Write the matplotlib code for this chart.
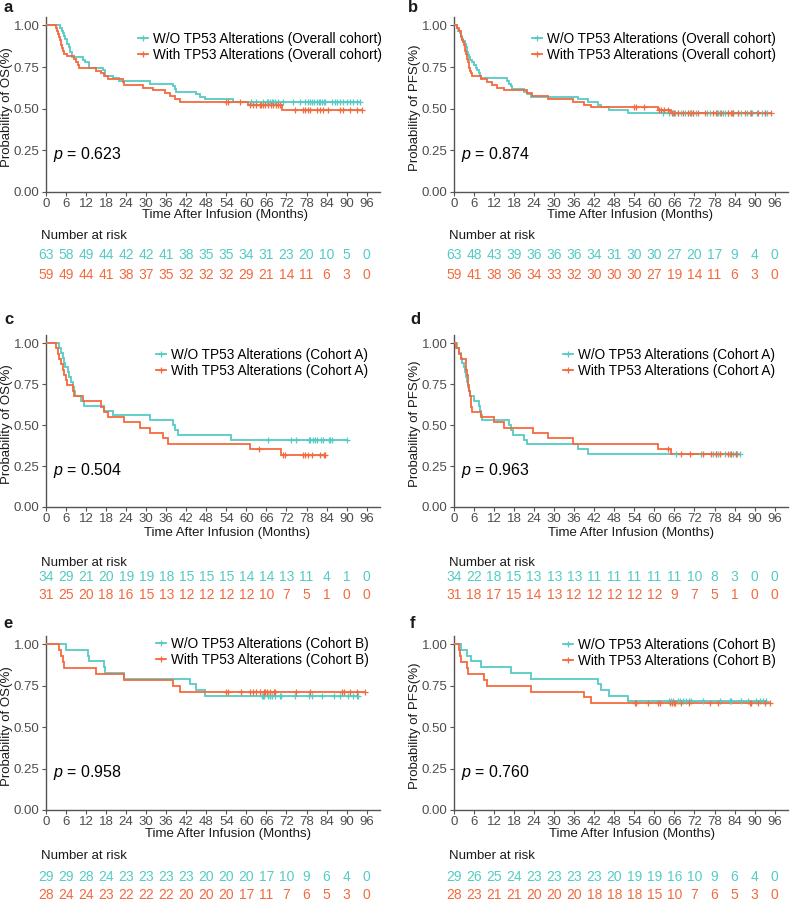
import numpy as np
import matplotlib
matplotlib.use("Agg")
import matplotlib.pyplot as plt
from matplotlib.lines import Line2D
from matplotlib.transforms import blended_transform_factory

plt.rcParams['font.family'] = ['Liberation Sans', 'DejaVu Sans']
plt.rcParams['mathtext.fontset'] = 'custom'
plt.rcParams['mathtext.it'] = 'Liberation Sans:italic'
plt.rcParams['mathtext.rm'] = 'Liberation Sans'

TEAL = '#55CBC4'
ORANGE = '#F46A3E'

# ---------------- data ----------------
x_ticks = [0, 6, 12, 18, 24, 30, 36, 42, 48, 54, 60, 66, 72, 78, 84, 90, 96]
y_ticks = [0.0, 0.25, 0.50, 0.75, 1.00]
y_ticklabels = ['0.00', '0.25', '0.50', '0.75', '1.00']
risk_times = [0, 6, 12, 18, 24, 30, 36, 42, 48, 54, 60, 66, 72, 78, 84, 90, 96]

# panel a : OS overall
a_wo_t = [4.3, 4.7, 5.0, 5.4, 5.8, 6.3, 6.8, 7.3, 7.8, 11.0, 11.8, 12.8, 17.0, 17.8, 20.0, 22.0,
          31.0, 38.0, 38.5, 39.0, 45.0, 46.0, 47.5, 56.0]
a_wo_s = [0.984, 0.968, 0.952, 0.937, 0.921, 0.889, 0.873, 0.841, 0.810, 0.794, 0.778, 0.746,
          0.730, 0.698, 0.683, 0.667, 0.651, 0.635, 0.619, 0.603, 0.587, 0.571, 0.556, 0.540]
a_wo_cens = [61.5, 63.0, 65.1, 66.1, 66.6, 67.1, 67.6, 68.1, 68.6, 69.6, 70.9, 74.1, 76.0, 77.5,
             78.5, 79.1, 79.6, 80.1, 81.1, 81.6, 82.1, 82.6, 83.1, 83.6, 85.5, 86.5, 87.0, 88.0,
             89.0, 90.0, 91.0, 92.0, 93.0, 94.0]
a_w_t = [3.0, 3.4, 3.7, 4.0, 4.2, 4.4, 4.6, 4.8, 5.0, 5.3, 6.2, 8.5, 9.0, 9.5, 10.0, 15.0, 16.5,
         17.5, 18.5, 23.0, 23.5, 29.0, 32.0, 35.5, 37.0, 38.5, 40.0, 60.5, 70.8]
a_w_s = [0.983, 0.966, 0.949, 0.932, 0.915, 0.898, 0.881, 0.864, 0.847, 0.831, 0.814, 0.797,
         0.780, 0.763, 0.746, 0.729, 0.712, 0.695, 0.678, 0.661, 0.644, 0.627, 0.610, 0.593,
         0.576, 0.559, 0.542, 0.523, 0.490]
a_w_cens = [54.0, 54.5, 58.0, 61.0, 62.0, 63.0, 64.0, 64.5, 65.0, 65.7, 66.5, 67.5, 68.0, 69.0,
            69.5, 70.0, 74.5, 77.0, 77.5, 78.5, 79.0, 81.0, 82.0, 83.0, 84.5, 88.0, 89.0, 91.0,
            93.0, 94.5]
a_wo_risk = [63, 58, 49, 44, 42, 42, 41, 38, 35, 35, 34, 31, 23, 20, 10, 5, 0]
a_w_risk = [59, 49, 44, 41, 38, 37, 35, 32, 32, 32, 29, 21, 14, 11, 6, 3, 0]

# panel b : PFS overall
b_wo_t = [0.8, 1.3, 1.8, 2.2, 2.5, 2.8, 3.2, 3.5, 3.8, 4.0, 4.3, 4.6, 4.9, 5.5, 5.9, 6.5, 7.0,
          7.5, 7.8, 8.0, 16.0, 16.5, 17.0, 17.5, 21.0, 22.0, 23.0, 37.0, 40.0, 43.0, 44.0, 46.5,
          52.0]
b_wo_s = [0.984, 0.968, 0.952, 0.937, 0.921, 0.905, 0.889, 0.873, 0.857, 0.841, 0.825, 0.810,
          0.794, 0.778, 0.762, 0.746, 0.730, 0.714, 0.698, 0.683, 0.667, 0.651, 0.635, 0.619,
          0.603, 0.587, 0.571, 0.556, 0.540, 0.524, 0.508, 0.492, 0.476]
b_wo_cens = [62.5, 64.5, 65.5, 66.1, 67.1, 68.1, 69.1, 70.1, 70.6, 71.6, 72.6, 75.6, 76.6, 78.6,
             79.1, 79.6, 80.5, 81.2, 82.1, 83.1, 83.6, 85.1, 86.0, 87.6, 88.5, 89.3, 90.6, 92.1,
             93.0, 93.6]
b_w_t = [1.0, 1.5, 2.0, 2.2, 2.5, 2.8, 3.0, 3.2, 3.4, 3.6, 3.8, 4.0, 4.2, 4.4, 4.6, 4.8, 5.0,
         5.5, 8.0, 10.0, 11.5, 13.0, 15.0, 22.0, 23.5, 28.0, 35.5, 39.0, 41.0, 61.0, 65.0]
b_w_s = [0.983, 0.966, 0.949, 0.932, 0.915, 0.898, 0.881, 0.864, 0.847, 0.831, 0.814, 0.797,
         0.780, 0.763, 0.746, 0.729, 0.712, 0.695, 0.678, 0.661, 0.644, 0.627, 0.610, 0.593,
         0.576, 0.559, 0.542, 0.525, 0.508, 0.490, 0.472]
b_w_cens = [54.0, 54.5, 57.0, 61.5, 62.0, 63.0, 64.0, 65.3, 65.8, 67.0, 68.5, 70.0, 71.0, 71.5,
            73.0, 75.0, 77.5, 78.5, 80.0, 82.0, 83.0, 83.5, 85.0, 87.0, 89.0, 91.0, 93.0, 95.0]
b_wo_risk = [63, 48, 43, 39, 36, 36, 36, 34, 31, 30, 30, 27, 20, 17, 9, 4, 0]
b_w_risk = [59, 41, 38, 36, 34, 33, 32, 30, 30, 30, 27, 19, 14, 11, 6, 3, 0]

# panel c : OS cohort A
c_wo_t = [4.0, 4.5, 5.0, 5.5, 5.8, 6.5, 7.0, 7.5, 8.0, 8.3, 8.6, 10.5, 11.5, 17.5, 20.0, 31.0,
          38.0, 38.5, 39.5, 55.5]
c_wo_s = [0.971, 0.941, 0.912, 0.882, 0.853, 0.824, 0.794, 0.765, 0.735, 0.706, 0.676, 0.647,
          0.618, 0.588, 0.559, 0.529, 0.500, 0.471, 0.441, 0.412]
c_wo_cens = [66.4, 73.4, 74.8, 78.6, 79.1, 80.0, 80.6, 81.1, 82.3, 83.0, 84.6, 85.0, 85.5, 90.0]
c_w_t = [3.0, 3.5, 4.0, 4.5, 5.0, 5.5, 6.0, 6.2, 8.0, 8.5, 11.0, 16.5, 17.5, 18.5, 23.5, 28.0,
         31.0, 35.0, 36.5, 61.0, 70.5]
c_w_s = [0.968, 0.935, 0.903, 0.871, 0.839, 0.806, 0.774, 0.742, 0.710, 0.677, 0.645, 0.613,
         0.581, 0.548, 0.516, 0.484, 0.452, 0.419, 0.387, 0.355, 0.316]
c_w_cens = [63.7, 71.0, 71.5, 76.9, 77.6, 78.3, 79.5, 82.1, 83.1, 83.6]
c_wo_risk = [34, 29, 21, 20, 19, 19, 18, 15, 15, 15, 14, 14, 13, 11, 4, 1, 0]
c_w_risk = [31, 25, 20, 18, 16, 15, 13, 12, 12, 12, 12, 10, 7, 5, 1, 0, 0]

# panel d : PFS cohort A
d_wo_t = [1.0, 1.5, 2.0, 2.5, 3.0, 3.3, 3.6, 3.9, 4.2, 4.5, 4.8, 5.9, 7.5, 7.8, 8.0, 8.3, 16.5,
          17.0, 17.8, 21.0, 22.0, 37.0, 40.0]
d_wo_s = [0.971, 0.941, 0.912, 0.882, 0.853, 0.824, 0.794, 0.765, 0.735, 0.706, 0.676, 0.647,
          0.618, 0.588, 0.559, 0.529, 0.500, 0.471, 0.441, 0.412, 0.382, 0.353, 0.324]
d_wo_cens = [66.6, 74.1, 77.5, 78.5, 79.0, 81.0, 82.5, 83.5, 84.3, 84.8, 85.5]
d_w_t = [0.5, 1.5, 2.0, 3.5, 3.7, 3.9, 4.1, 4.3, 4.5, 4.8, 5.0, 5.2, 5.5, 8.0, 12.0, 15.0, 23.8,
         28.0, 35.5, 61.0, 65.0]
d_w_s = [0.968, 0.935, 0.903, 0.871, 0.839, 0.806, 0.774, 0.742, 0.710, 0.677, 0.645, 0.613,
         0.581, 0.548, 0.516, 0.484, 0.452, 0.419, 0.387, 0.355, 0.323]
d_w_cens = [64.1, 68.0, 70.6, 74.6, 77.0, 78.5, 79.5, 82.0, 83.0, 84.3]
d_wo_risk = [34, 22, 18, 15, 13, 13, 13, 11, 11, 11, 11, 11, 10, 8, 3, 0, 0]
d_w_risk = [31, 18, 17, 15, 14, 13, 12, 12, 12, 12, 12, 9, 7, 5, 1, 0, 0]

# panel e : OS cohort B
e_wo_t = [6.0, 12.5, 13.0, 17.5, 17.8, 23.5, 43.0, 45.0, 47.5]
e_wo_s = [0.966, 0.931, 0.897, 0.862, 0.828, 0.793, 0.759, 0.724, 0.690]
e_wo_cens = [64.7, 65.0, 65.2, 66.5, 67.0, 67.2, 67.7, 68.5, 70.0, 70.5, 74.6, 78.6, 79.6, 82.6,
             86.1, 88.1, 90.5, 91.8, 93.0, 93.5]
e_w_t = [4.0, 4.5, 5.0, 5.5, 15.0, 23.5, 38.0, 40.0]
e_w_s = [0.964, 0.929, 0.893, 0.857, 0.821, 0.786, 0.750, 0.714]
e_w_cens = [54.0, 54.5, 58.5, 61.2, 62.0, 63.0, 64.0, 65.2, 65.7, 66.2, 67.0, 68.2, 68.7, 75.0,
            79.1, 88.6, 89.1, 91.0, 93.0, 95.5]
e_wo_risk = [29, 29, 28, 24, 23, 23, 23, 23, 20, 20, 20, 17, 10, 9, 6, 4, 0]
e_w_risk = [28, 24, 24, 23, 22, 22, 22, 20, 20, 20, 17, 11, 7, 6, 5, 3, 0]

# panel f : PFS cohort B
f_wo_t = [2.0, 4.0, 5.0, 8.0, 17.0, 23.0, 43.0, 44.0, 46.5, 52.0]
f_wo_s = [0.966, 0.931, 0.897, 0.862, 0.828, 0.793, 0.759, 0.724, 0.690, 0.655]
f_wo_cens = [64.4, 65.1, 65.6, 67.1, 67.6, 68.5, 69.6, 70.5, 71.0, 74.6, 79.5, 82.5, 83.0, 86.0,
             88.0, 90.5, 91.5, 92.5, 93.5]
f_w_t = [1.5, 1.8, 2.0, 4.0, 4.3, 9.0, 10.0, 23.0, 39.0, 41.0]
f_w_s = [0.964, 0.929, 0.893, 0.857, 0.821, 0.786, 0.750, 0.714, 0.679, 0.643]
f_w_cens = [54.1, 54.6, 58.0, 61.1, 61.8, 64.6, 65.3, 65.8, 66.1, 68.1, 70.5, 76.5, 79.0, 88.5,
            88.8, 91.0, 93.0, 94.5]
f_wo_risk = [29, 26, 25, 24, 23, 23, 23, 23, 20, 19, 19, 16, 10, 9, 6, 4, 0]
f_w_risk = [28, 23, 21, 21, 20, 20, 20, 18, 18, 18, 15, 10, 7, 6, 5, 3, 0]

p_values = ['0.623', '0.874', '0.504', '0.963', '0.958', '0.760']
panel_letters = ['a', 'b', 'c', 'd', 'e', 'f']
y_labels = ['Probability of OS(%)', 'Probability of PFS(%)'] * 3
legend_suffix = ['(Overall cohort)', '(Overall cohort)', '(Cohort A)', '(Cohort A)',
                 '(Cohort B)', '(Cohort B)']

# ---------------- layout (pixels) ----------------
W, H = 790, 901
fig = plt.figure(figsize=(W / 100, H / 100), dpi=100)

col_lr = [(46, 380), (454, 788)]
row_tb = [(17, 192), (335, 507), (636, 810)]
ylabel_x = [14, 422]
letter_xy = [(4, 8), (408, 8), (4, 320), (410, 320), (3, 624), (410, 624)]
legend_xy = [(138, 32), (532, 32), (156, 348), (563, 348), (156, 637), (563, 638)]
xlabel_y = [215, 215, 533, 533, 834, 834]
xlabel_x = [225, 630, 227, 631, 228, 632]
nar_y = [236, 236, 563, 563, 856, 856]
row1_y = [255, 255, 577, 577, 877, 877]
row2_y = [275, 275, 595, 595, 895, 895]

panels = [
    (a_wo_t, a_wo_s, a_wo_cens, a_w_t, a_w_s, a_w_cens, a_wo_risk, a_w_risk),
    (b_wo_t, b_wo_s, b_wo_cens, b_w_t, b_w_s, b_w_cens, b_wo_risk, b_w_risk),
    (c_wo_t, c_wo_s, c_wo_cens, c_w_t, c_w_s, c_w_cens, c_wo_risk, c_w_risk),
    (d_wo_t, d_wo_s, d_wo_cens, d_w_t, d_w_s, d_w_cens, d_wo_risk, d_w_risk),
    (e_wo_t, e_wo_s, e_wo_cens, e_w_t, e_w_s, e_w_cens, e_wo_risk, e_w_risk),
    (f_wo_t, f_wo_s, f_wo_cens, f_w_t, f_w_s, f_w_cens, f_wo_risk, f_w_risk),
]

AX_GRAY = '#555555'
TICK_GRAY = '#4D4D4D'


def fx(x):
    return x / W


def fy(y):
    return 1 - y / H


def draw_km(ax, t, s, cens, color):
    end = max(max(cens), max(t))
    xs = [0.0] + list(t) + [end]
    ys = [1.0] + list(s) + [s[-1]]
    ax.step(xs, ys, where='post', color=color, lw=1.3, solid_joinstyle='miter', zorder=3)
    t_arr = np.array(t)
    s_arr = np.array(s)
    cy = []
    for c in cens:
        idx = np.searchsorted(t_arr, c, side='right') - 1
        cy.append(1.0 if idx < 0 else s_arr[idx])
    ax.plot(cens, cy, ls='none', marker='+', ms=5, mew=0.9, color=color, zorder=4)


for i, (wo_t, wo_s, wo_c, w_t, w_s, w_c, wo_r, w_r) in enumerate(panels):
    r, c = divmod(i, 2)
    l, rr = col_lr[c]
    t, b = row_tb[r]
    ax = fig.add_axes([fx(l), fy(b), (rr - l) / W, (b - t) / H])
    draw_km(ax, wo_t, wo_s, wo_c, TEAL)
    draw_km(ax, w_t, w_s, w_c, ORANGE)
    ax.set_xlim(0, 100)
    ax.set_ylim(0, 1.05)
    ax.set_xticks(x_ticks)
    ax.set_xticklabels([str(v) for v in x_ticks])
    ax.set_yticks(y_ticks)
    ax.set_yticklabels(y_ticklabels)
    for sp in ['top', 'right']:
        ax.spines[sp].set_visible(False)
    for sp in ['left', 'bottom']:
        ax.spines[sp].set_color(AX_GRAY)
        ax.spines[sp].set_linewidth(1.0)
    ax.tick_params(axis='both', colors=AX_GRAY, labelcolor=TICK_GRAY, length=3, width=0.8,
                   pad=1.5)
    ax.tick_params(axis='x', labelsize=9.5)
    ax.tick_params(axis='y', labelsize=9.5)
    ax.set_facecolor('none')

    # y label drawn as figure text so its position is exact
    fig.text(fx(ylabel_x[c] - 7), fy((t + b) / 2 + 3), y_labels[i], rotation=90,
             fontsize=9.5, color='#1A1A1A', ha='center', va='center')

    ax.text(2.0, 0.225, r'$p$ = ' + p_values[i], fontsize=11.5, color='black',
            va='center', ha='left')

    handles = [Line2D([0], [0], color=TEAL, lw=1.3, marker='+', ms=5, mew=0.9),
               Line2D([0], [0], color=ORANGE, lw=1.3, marker='+', ms=5, mew=0.9)]
    labels = ['W/O TP53 Alterations ' + legend_suffix[i],
              'With TP53 Alterations ' + legend_suffix[i]]
    lx, ly = legend_xy[i]
    ax.legend(handles, labels, loc='upper left', bbox_to_anchor=(fx(lx), fy(ly)),
              bbox_transform=fig.transFigure, frameon=False, fontsize=9.8,
              handlelength=0.75, handletextpad=0.35, labelspacing=0.12,
              borderpad=0, borderaxespad=0)

    fig.text(fx(letter_xy[i][0]), fy(letter_xy[i][1]), panel_letters[i], fontsize=12,
             fontweight='bold', va='center', ha='left', color='#1A1A1A')
    fig.text(fx(xlabel_x[i]), fy(xlabel_y[i]), 'Time After Infusion (Months)', fontsize=9.5,
             ha='center', va='center', color='#1A1A1A')
    fig.text(fx(l - 5), fy(nar_y[i]), 'Number at risk', fontsize=9.5, ha='left',
             va='center', color='#1A1A1A')
    tr = blended_transform_factory(ax.transData, fig.transFigure)
    for xt, v1, v2 in zip(risk_times, wo_r, w_r):
        fig.text(xt, fy(row1_y[i]), str(v1), transform=tr, fontsize=10, ha='center',
                 va='center', color=TEAL)
        fig.text(xt, fy(row2_y[i]), str(v2), transform=tr, fontsize=10, ha='center',
                 va='center', color=ORANGE)

fig.savefig('out.png', dpi=100)
